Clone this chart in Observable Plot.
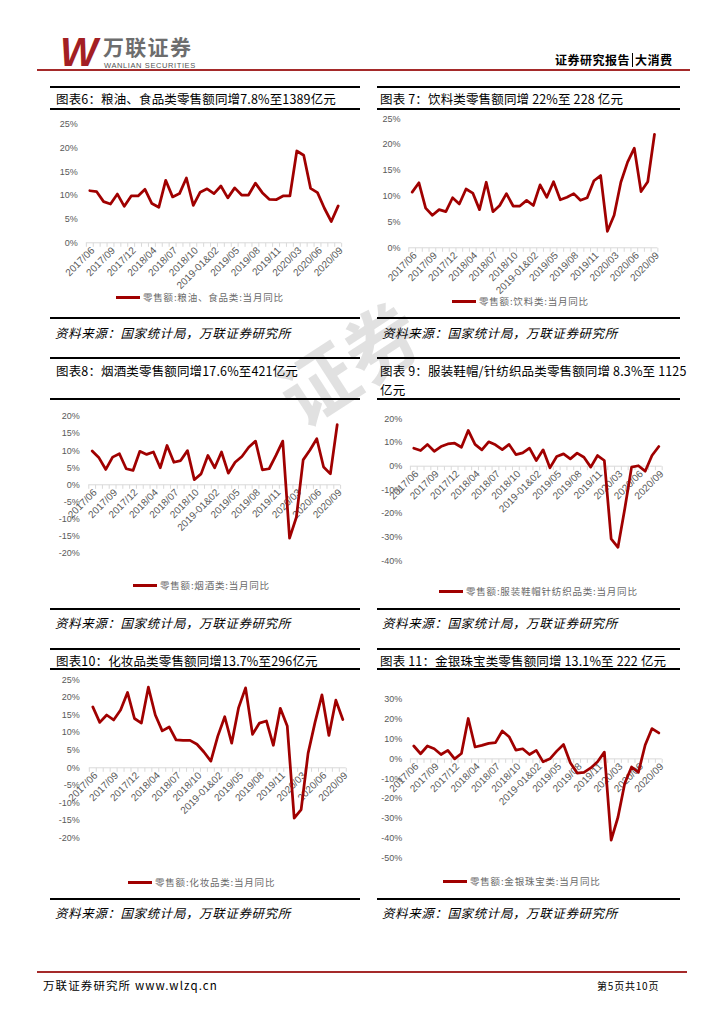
<!DOCTYPE html>
<html><head><meta charset="utf-8">
<script src="https://cdn.jsdelivr.net/npm/d3@7"></script>
<script src="https://cdn.jsdelivr.net/npm/@observablehq/plot@0.6"></script>
<style>
body{margin:0;background:#fff;}
#page{position:relative;width:724px;height:1024px;overflow:hidden;background:#fff;font-family:"Noto Sans CJK SC","Noto Sans",sans-serif;}
.hl{position:absolute;height:2px;background:#000;}
.title{position:absolute;font-size:12.5px;color:#000;white-space:nowrap;line-height:19px;letter-spacing:0.15px;transform:translateY(-50%);}
.src{position:absolute;font-size:12.5px;font-style:italic;white-space:nowrap;letter-spacing:0.6px;transform:translateY(-50%);color:#000;}
.legend{position:absolute;font-size:9.5px;color:#6a6a6a;white-space:nowrap;display:flex;align-items:center;letter-spacing:0.8px;transform:translateY(-50%);}
.legend .sw{display:inline-block;width:24px;height:3px;background:#a00000;margin-right:3px;}
.chart{position:absolute;}
#wm{position:absolute;left:272px;top:322px;font-size:76px;line-height:1;color:rgba(200,200,200,0.55);font-weight:700;transform:rotate(-33deg);transform-origin:center;white-space:nowrap;}
</style></head>
<body>
<div id="page">
  <div id="wm">证券</div>
  <!-- header -->
  <div style="position:absolute;left:60px;top:30px;font-family:'Liberation Sans',Arial;font-weight:700;font-style:italic;font-size:40px;color:#a31f24;letter-spacing:-4px;line-height:44px;">W</div>
  <div style="position:absolute;left:103px;top:36px;font-size:21px;line-height:21px;font-weight:700;color:#6d6d6d;letter-spacing:1.3px;">万联证券</div>
  <div style="position:absolute;left:104px;top:62px;font-family:'Liberation Sans',Arial;font-size:7.5px;line-height:7.5px;color:#555;letter-spacing:0.6px;">WANLIAN SECURITIES</div>
  <div style="position:absolute;left:555px;top:51px;font-size:12px;font-weight:700;color:#000;letter-spacing:0.5px;">证券研究报告<span style="display:inline-block;width:1px;height:14px;background:#000;margin:0 2px;vertical-align:-2px"></span>大消费</div>
  <div style="position:absolute;left:37px;top:69px;width:653px;height:2px;background:#a52a2a;"></div>

  <!-- footer -->
  <div style="position:absolute;left:37px;top:971px;width:650px;height:2px;background:#a52a2a;"></div>
  <div style="position:absolute;left:43px;top:977px;font-size:11.5px;color:#000;letter-spacing:1.1px;">万联证券研究所 www.wlzq.cn</div>
  <div style="position:absolute;left:597px;top:978px;font-size:10px;color:#000;letter-spacing:0.8px;">第5页共10页</div>
</div>
<script>
// ---------- data ----------
const categories = ["2017/06","2017/07","2017/08","2017/09","2017/10","2017/11","2017/12","2018/01-02","2018/03","2018/04","2018/05","2018/06","2018/07","2018/08","2018/09","2018/10","2018/11","2018/12","2019-01&02","2019/03","2019/04","2019/05","2019/06","2019/07","2019/08","2019/09","2019/10","2019/11","2019/12","2020/01-02","2020/03","2020/04","2020/05","2020/06","2020/07","2020/08","2020/09"];
const tickLabels = ["2017/06","2017/09","2017/12","2018/04","2018/07","2018/10","2019-01&02","2019/05","2019/08","2019/11","2020/03","2020/06","2020/09"];
const foodOil = [11.0,10.8,8.7,8.2,10.3,7.7,9.9,9.9,11.3,8.3,7.5,13.2,9.7,10.4,13.7,7.9,10.7,11.4,10.4,12.0,9.5,11.6,10.1,10.1,12.6,10.6,9.2,9.1,9.9,9.9,19.4,18.5,11.5,10.6,7.3,4.5,7.8];
const beverage = [10.8,12.6,7.7,6.3,7.4,7.0,9.7,8.5,11.4,10.6,7.4,12.7,7.0,8.2,10.5,8.1,8.1,9.2,8.2,12.2,9.8,12.8,9.3,9.8,10.5,9.2,9.7,13.0,14.0,3.2,6.3,12.7,16.6,19.3,10.9,12.8,22.0];
const tobaccoWine = [9.9,7.9,4.5,8.1,9.1,4.7,4.2,9.8,8.9,9.6,5.0,11.5,6.6,7.1,10.0,1.5,3.2,8.6,5.0,9.6,3.4,6.6,8.3,11.0,12.8,4.4,4.7,8.6,12.8,-15.6,-9.5,7.3,10.2,13.5,5.2,3.2,17.6];
const apparel = [7.6,6.6,9.2,6.3,8.3,9.4,9.7,8.0,15.1,9.2,6.9,10.3,9.0,7.0,9.2,4.9,5.6,7.6,2.4,6.9,-0.7,4.1,5.2,3.1,5.5,3.8,-0.4,4.5,2.4,-30.7,-34.2,-18.0,-0.4,0.2,-2.1,4.5,8.3];
const cosmetics = [17.3,12.9,15.0,13.6,16.4,21.4,14.0,12.7,22.9,15.0,10.5,11.6,7.9,7.8,7.8,6.7,4.5,1.9,9.0,14.5,7.0,17.1,22.7,9.5,12.7,13.3,6.4,16.9,11.9,-14.3,-11.9,4.1,12.9,20.7,9.2,19.2,13.7];
const jewelry = [6.5,2.6,6.5,5.1,2.2,4.3,0.0,2.7,20.4,6.0,6.8,7.8,8.2,14.1,11.2,4.4,5.1,2.2,4.3,-1.5,0.0,3.9,7.3,-2.0,-7.2,-6.8,-4.6,-1.5,3.4,-41.1,-29.5,-12.3,-4.1,-6.8,7.0,15.3,13.1];

const titles = [
  "图表6：粮油、食品类零售额同增7.8%至1389亿元",
  "图表 7：饮料类零售额同增 22%至 228 亿元",
  "图表8：烟酒类零售额同增17.6%至421亿元",
  "图表 9：服装鞋帽/针纺织品类零售额同增 8.3%至 1125<br>亿元",
  "图表10：化妆品类零售额同增13.7%至296亿元",
  "图表 11：金银珠宝类零售额同增 13.1%至 222 亿元"
];
const legends = ["零售额:粮油、食品类:当月同比","零售额:饮料类:当月同比","零售额:烟酒类:当月同比","零售额:服装鞋帽针纺织品类:当月同比","零售额:化妆品类:当月同比","零售额:金银珠宝类:当月同比"];
const sourceText = "资料来源：国家统计局，万联证券研究所";

const yDomains = [[0,25],[0,25],[-20,20],[-40,20],[-20,25],[-50,30]];
const yTicks = [[0,5,10,15,20,25],[0,5,10,15,20,25],[-20,-15,-10,-5,0,5,10,15,20],[-40,-30,-20,-10,0,10,20],[-20,-15,-10,-5,0,5,10,15,20,25],[-50,-40,-30,-20,-10,0,10,20,30]];
const seriesList = [foodOil, beverage, tobaccoWine, apparel, cosmetics, jewelry];

// ---------- layout ----------
const LINE_RED = "#a00000";
const page = document.getElementById("page");
function hline(x, y, w, h=2, color="#000"){
  const d = document.createElement("div");
  d.className="hl"; d.style.left=x+"px"; d.style.top=(y-h/2)+"px"; d.style.width=w+"px"; d.style.height=h+"px"; d.style.background=color;
  page.appendChild(d);
}
const panels = [
  {px:50, pw:310, top:87, under:109, srcLine:318, srcY:332, titleX:56, titleY:98, leg:[116,297],
   svg:[40,112,320,180], xs:[89.3,337.7], ys:[124,242.3], pad:8.5},
  {px:377, pw:303, top:87, under:109, srcLine:318, srcY:332, titleX:380, titleY:98, leg:[452,301],
   svg:[370,112,320,182], xs:[411.7,654], ys:[118.3,247.3], pad:8.3},
  {px:50, pw:310, top:358, under:399, srcLine:609, srcY:622, titleX:56, titleY:370, leg:[133,585],
   svg:[40,402,320,172], xs:[91.7,336.7], ys:[416,552.6], pad:9},
  {px:377, pw:303, top:358, under:399, srcLine:609, srcY:622, titleX:380, titleY:379.5, leg:[439,591],
   svg:[370,402,320,176], xs:[413.3,658.3], ys:[418.3,560.5], pad:8.2},
  {px:50, pw:310, top:649, under:669, srcLine:899, srcY:912, titleX:56, titleY:660, leg:[128,882],
   svg:[40,672,320,200], xs:[92.3,342.3], ys:[679.3,837.7], pad:9.5},
  {px:377, pw:303, top:649, under:669, srcLine:899, srcY:912, titleX:380, titleY:660, leg:[443,881],
   svg:[370,672,320,198], xs:[413.3,658.3], ys:[699,857.3], pad:8.2}
];

const tickSymbol = {draw(ctx){ ctx.moveTo(0,0); ctx.lineTo(0,4); }};
const labelIdx = categories.map((c,i)=>i).filter(i => tickLabels.includes(categories[i]));

panels.forEach((p, k) => {
  hline(p.px, p.top, p.pw);
  hline(p.px, p.under, p.pw);
  hline(p.px, p.srcLine, p.pw);
  const t = document.createElement("div");
  t.className="title"; t.style.left=p.titleX+"px"; t.style.top=p.titleY+"px"; t.innerHTML = titles[k];
  page.appendChild(t);
  const s = document.createElement("div");
  s.className="src"; s.style.left=(p.px+5)+"px"; s.style.top=p.srcY+"px"; s.textContent = sourceText;
  page.appendChild(s);
  const lg = document.createElement("div");
  lg.className="legend"; lg.style.left=p.leg[0]+"px"; lg.style.top=p.leg[1]+"px";
  lg.innerHTML = '<span class="sw"></span>' + legends[k];
  page.appendChild(lg);

  const [sl, st, sw, sh] = p.svg;
  const step = (p.xs[1]-p.xs[0])/36;
  const mL = p.xs[0]-step/2-sl;
  const mR = sl+sw-(p.xs[1]+step/2);
  const mT = p.ys[0]-st;
  const mB = st+sh-p.ys[1];
  const data = seriesList[k].map((v,i)=>({i, v}));
  const bounds = d3.range(38).map(b=>b-0.5);
  const chart = Plot.plot({
    width: sw, height: sh, marginLeft: mL, marginRight: mR, marginTop: mT, marginBottom: mB,
    style: {background:"transparent", overflow:"visible", fontFamily:"'Liberation Sans', Arial, sans-serif", fontSize:"9px", color:"#595959"},
    x: {domain:[-0.5,36.5], axis:null},
    y: {domain: yDomains[k], ticks: yTicks[k], tickSize:0, tickPadding:p.pad, tickFormat: d => d + "%", label:null},
    marks: [
      Plot.ruleY([0], {stroke:"#d9d9d9", strokeWidth:1}),
      Plot.dot(bounds, {x:d=>d, y:()=>0, symbol: tickSymbol, r:3, stroke:"#d9d9d9", fill:"none", strokeWidth:1}),
      Plot.text(labelIdx, {x:d=>d, y:()=>0, text:d=>categories[d], rotate:-45, textAnchor:"end", dx:3, dy:6, fontSize:10, fill:"#595959"}),
      Plot.line(data, {x:"i", y:"v", stroke:LINE_RED, strokeWidth:2.75, strokeLinejoin:"round"})
    ]
  });
  chart.classList.add("chart");
  chart.style.left = sl+"px"; chart.style.top = st+"px";
  page.appendChild(chart);
});
</script>
</body></html>
